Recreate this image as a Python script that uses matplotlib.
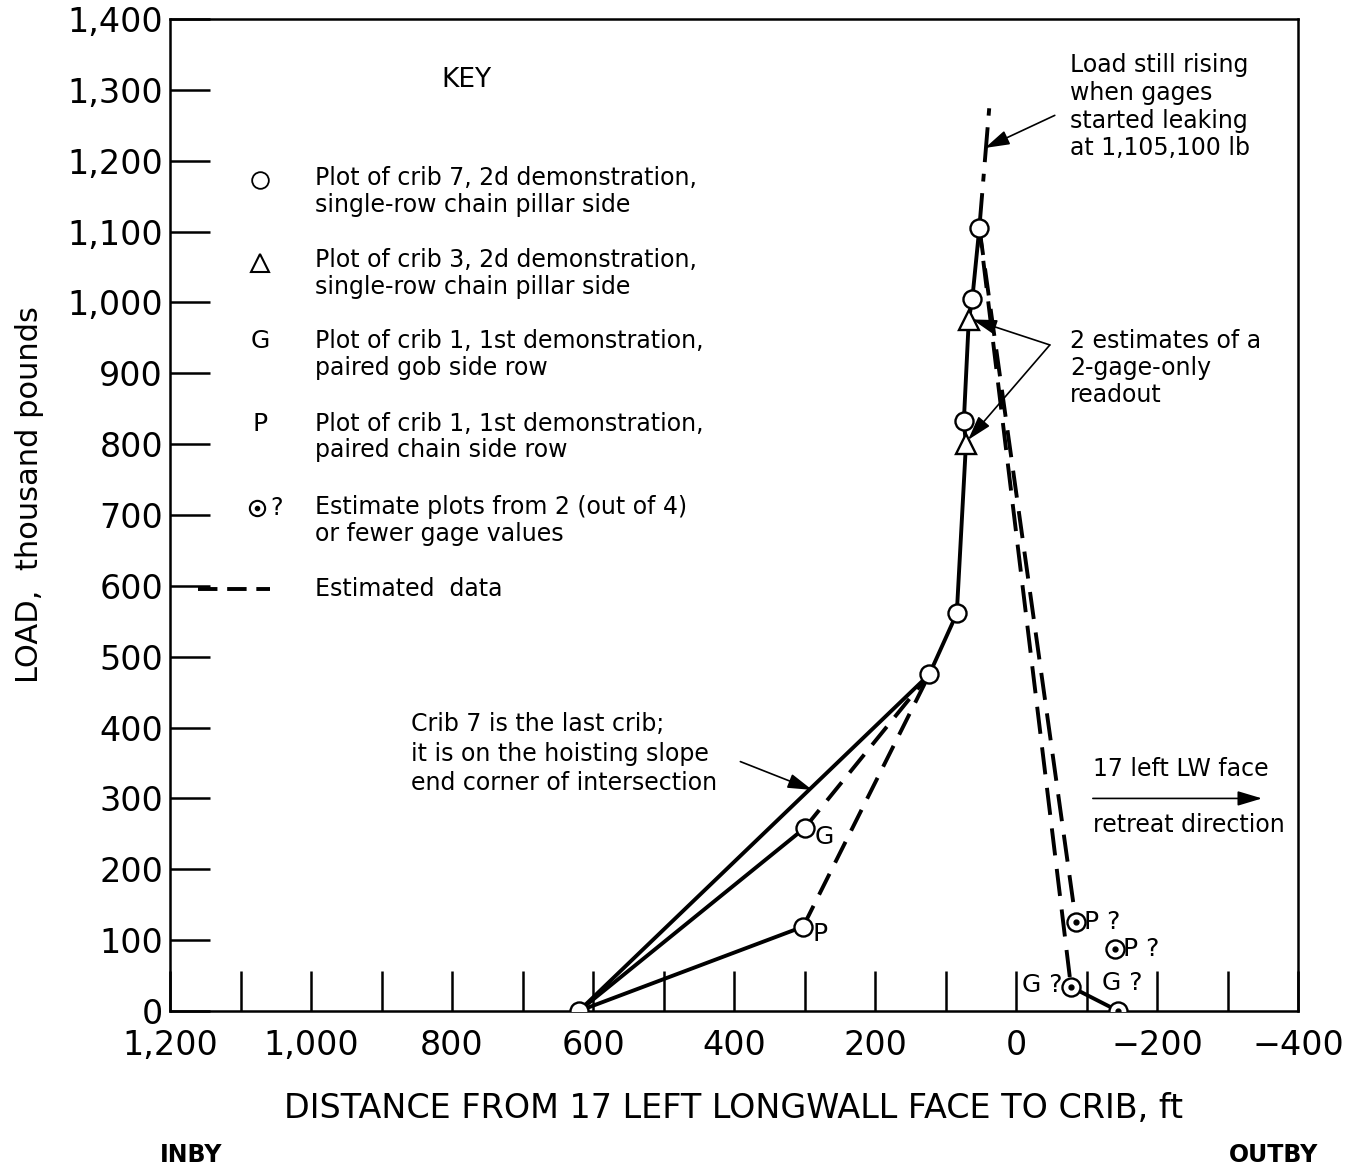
import matplotlib
matplotlib.use("Agg")
import matplotlib.pyplot as plt
from matplotlib.ticker import MultipleLocator

plt.rcParams["font.family"] = ["DejaVu Sans"]

# distance from face (ft) and load (thousand lb)
crib7_dist = [620, 123, 84, 74, 62, 52]
crib7_load = [0, 475, 561, 832, 1005, 1105]
crib3_dist = [71, 67]
crib3_load = [800, 975]

gob_dist = [620, 300]            # crib 1, gob side row
gob_load = [0, 258]
chain_dist = [620, 302]          # crib 1, chain side row
chain_load = [0, 119]
gob_est_dist = [300, 123]
gob_est_load = [258, 475]
chain_est_dist = [302, 123]
chain_est_load = [119, 475]

# after peak: estimated decline to the 2-gage readouts
peak_dist, peak_load = 52, 1105
rising_dist = [52, 38]
rising_load = [1105, 1274]
p_est_dist = [-85, -140]
p_est_load = [126, 88]
g_est_dist = [-78, -145]
g_est_load = [34, 0]

x_ticks = [1200, 1000, 800, 600, 400, 200, 0, -200, -400]
x_tick_labels = ["1,200", "1,000", "800", "600", "400", "200", "0", "\u2212200", "\u2212400"]
y_ticks = list(range(0, 1401, 100))
y_tick_labels = ["0", "100", "200", "300", "400", "500", "600", "700", "800", "900",
                 "1,000", "1,100", "1,200", "1,300", "1,400"]

fig = plt.figure(figsize=(13.52, 11.68), dpi=100)
ax = fig.add_axes([170 / 1352, 1 - 1011 / 1168, 1128 / 1352, 992 / 1168])
ax.set_xlim(1200, -400)
ax.set_ylim(0, 1400)

LW = 2.8
dash = (0, (6, 3.2))
mk = dict(marker="o", markersize=13, markerfacecolor="white", markeredgecolor="black",
          markeredgewidth=1.7, linestyle="none", zorder=5)

# crib 7 and crib 3 share one solid trace
trace = sorted(zip(crib7_load + crib3_load, crib7_dist + crib3_dist))
ax.plot([d for _, d in trace], [l for l, _ in trace], color="black", lw=LW, zorder=3)
ax.plot(gob_dist, gob_load, color="black", lw=LW, zorder=3)
ax.plot(chain_dist, chain_load, color="black", lw=LW, zorder=3)
ax.plot(gob_est_dist, gob_est_load, color="black", lw=LW, linestyle=dash, zorder=3)
ax.plot(chain_est_dist, chain_est_load, color="black", lw=LW, linestyle=dash, zorder=3)

ax.plot(rising_dist, rising_load, color="black", lw=LW, linestyle=(0, (9, 3, 2, 3)), zorder=3)
ax.plot([peak_dist, p_est_dist[0]], [peak_load, p_est_load[0]], color="black", lw=LW,
        linestyle=(0, (7, 3.5)), zorder=3)
ax.plot([peak_dist, g_est_dist[0]], [peak_load, g_est_load[0]], color="black", lw=LW,
        linestyle=(2, (7, 3.5)), zorder=3)
ax.plot(g_est_dist, g_est_load, color="black", lw=LW, zorder=3)

ax.plot(crib7_dist, crib7_load, **mk)
ax.plot(gob_dist[1:], gob_load[1:], **mk)
ax.plot(chain_dist[1:], chain_load[1:], **mk)
ax.plot(crib3_dist, crib3_load, marker="^", markersize=14, markerfacecolor="white",
        markeredgecolor="black", markeredgewidth=1.7, linestyle="none", zorder=6)
est_x = p_est_dist + g_est_dist
est_y = p_est_load + g_est_load
ax.plot(est_x, est_y, **mk)
ax.plot(est_x, est_y, marker="o", markersize=3.5, color="black", linestyle="none", zorder=7)

lbl = dict(fontsize=18, color="black", zorder=8)
ax.text(gob_dist[1] - 14, gob_load[1] - 12, "G", ha="left", va="center", **lbl)
ax.text(chain_dist[1] - 14, chain_load[1] - 10, "P", ha="left", va="center", **lbl)
ax.text(p_est_dist[0] - 12, p_est_load[0], "P ?", ha="left", va="center", **lbl)
ax.text(p_est_dist[1] - 12, p_est_load[1], "P ?", ha="left", va="center", **lbl)
ax.text(g_est_dist[0] + 12, g_est_load[0] + 3, "G ?", ha="right", va="center", **lbl)
ax.text(g_est_dist[1] - 6, g_est_load[1] + 40, "G ?", ha="center", va="center", **lbl)

# axes frame and inward ticks
for s in ax.spines.values():
    s.set_linewidth(1.8)
ax.set_xticks(x_ticks)
ax.set_xticklabels(x_tick_labels)
ax.xaxis.set_minor_locator(MultipleLocator(100))
ax.set_yticks(y_ticks)
ax.set_yticklabels(y_tick_labels)
ax.tick_params(axis="both", which="both", direction="in", length=29, width=1.8,
               top=False, right=False)
ax.tick_params(axis="x", which="major", labelsize=24, pad=13)
ax.tick_params(axis="y", which="major", labelsize=24, pad=5)

# key
FS = 17
kt = dict(fontsize=FS, ha="left", va="center", linespacing=1.15)
ax.text(780, 1314, "KEY", fontsize=19, ha="center", va="center")
kx_mark, kx_text = 1072, 994
ax.plot([kx_mark], [1173], marker="o", markersize=12, markerfacecolor="white",
        markeredgecolor="black", markeredgewidth=1.3, linestyle="none")
ax.text(kx_text, 1156, "Plot of crib 7, 2d demonstration,\nsingle-row chain pillar side", **kt)
ax.plot([kx_mark], [1055], marker="^", markersize=13, markerfacecolor="white",
        markeredgecolor="black", markeredgewidth=1.5, linestyle="none")
ax.text(kx_text, 1041, "Plot of crib 3, 2d demonstration,\nsingle-row chain pillar side", **kt)
ax.text(kx_mark, 946, "G", fontsize=18, ha="center", va="center")
ax.text(kx_text, 927, "Plot of crib 1, 1st demonstration,\npaired gob side row", **kt)
ax.text(kx_mark, 829, "P", fontsize=18, ha="center", va="center")
ax.text(kx_text, 810, "Plot of crib 1, 1st demonstration,\npaired chain side row", **kt)
ax.plot([kx_mark + 4], [710], marker="o", markersize=11, markerfacecolor="white",
        markeredgecolor="black", markeredgewidth=1.5, linestyle="none")
ax.plot([kx_mark + 4], [710], marker="o", markersize=3, color="black", linestyle="none")
ax.text(kx_mark - 14, 710, "?", fontsize=FS, ha="left", va="center")
ax.text(kx_text, 692, "Estimate plots from 2 (out of 4)\nor fewer gage values", **kt)
ax.plot([1160, 1058], [595, 595], color="black", lw=LW, linestyle=(0, (5, 2.5)))
ax.text(kx_text, 595, "Estimated  data", **kt)

# callouts
arrow = dict(arrowstyle="-|>,head_length=1.5,head_width=0.45", color="black",
             lw=1.2, shrinkA=0, shrinkB=0)
ax.text(-77, 1352, "Load still rising\nwhen gages\nstarted leaking\nat 1,105,100 lb",
        fontsize=FS, ha="left", va="top", linespacing=1.2)
ax.annotate("", xy=(44, 1218), xytext=(-55, 1264), arrowprops=arrow)
ax.text(-77, 963, "2 estimates of a\n2-gage-only\nreadout",
        fontsize=FS, ha="left", va="top", linespacing=1.18)
for hx, hy in [(62, 976), (68, 806)]:
    ax.annotate("", xy=(hx, hy), xytext=(-48, 940), arrowprops=arrow)
ax.text(858, 422, "Crib 7 is the last crib;\nit is on the hoisting slope\nend corner of intersection",
        fontsize=FS, ha="left", va="top", linespacing=1.3)
ax.annotate("", xy=(289, 312), xytext=(391, 352), arrowprops=arrow)
ax.text(-109, 341, "17 left LW face", fontsize=FS, ha="left", va="center")
ax.annotate("", xy=(-349, 300), xytext=(-109, 300), arrowprops=arrow)
ax.text(-109, 262, "retreat direction", fontsize=FS, ha="left", va="center")

fig.text(733 / 1352, 1 - 1108 / 1168, "DISTANCE FROM 17 LEFT LONGWALL FACE TO CRIB, ft",
         fontsize=24, ha="center", va="center")
fig.text(30 / 1352, 1 - 495 / 1168, "LOAD,  thousand pounds", fontsize=22, rotation=90,
         ha="center", va="center")
fig.text(160 / 1352, 1 - 1155 / 1168, "INBY", fontsize=17, fontweight="bold",
         ha="left", va="center")
fig.text(1318 / 1352, 1 - 1155 / 1168, "OUTBY", fontsize=17, fontweight="bold",
         ha="right", va="center")

fig.savefig("out.png", dpi=100)
